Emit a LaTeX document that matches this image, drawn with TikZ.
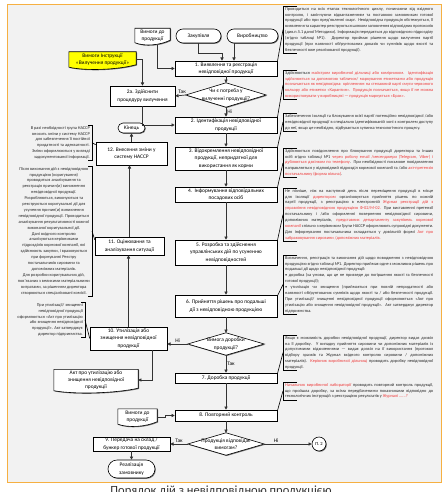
\documentclass[tikz,border=0pt]{standalone}
\usepackage{fontspec}
\setmainfont{Carlito}
\usetikzlibrary{arrows.meta,backgrounds,shadows,calc}
\definecolor{bgray}{HTML}{F2F2F2}
\definecolor{orng}{HTML}{F6B042}
\definecolor{redt}{HTML}{EE3A3A}
\definecolor{yel}{HTML}{FFFF00}
\newcommand\bxfont{\fontsize{5.4}{7.3}\selectfont}
\newcommand\anfont{\fontsize{4.35}{5.9}\selectfont}
\newcommand\rt[1]{\textcolor{redt}{#1}}
\newcommand\docshape[3]{%
 \fill[black!55] ([shift={(0.8pt,-0.8pt)}]#1.north west) -- ([shift={(0.8pt,-0.8pt)}]#1.north east) -- ([shift={(0.8pt,1.7pt)}]#1.south east) .. controls +(-#3,-5pt) and +(#3,-4pt) .. ([shift={(0.8pt,-0.8pt)}]#1.south west) -- cycle;
 \draw[line width=0.6pt, fill=#2] (#1.north west) -- (#1.north east) -- ([yshift=2.5pt]#1.south east) .. controls +(-#3,-5pt) and +(#3,-4pt) .. (#1.south west) -- cycle;}
\newcommand\diashape[1]{%
 \fill[black!55] ([shift={(0.8pt,-0.8pt)}]#1.north) -- ([shift={(0.8pt,-0.8pt)}]#1.east) -- ([shift={(0.8pt,-0.8pt)}]#1.south) -- ([shift={(0.8pt,-0.8pt)}]#1.west) -- cycle;
 \draw[line width=0.6pt, fill=white] (#1.north) -- (#1.east) -- (#1.south) -- (#1.west) -- cycle;}
\tolerance=9999 \emergencystretch=3pt \hbadness=10000
\begin{document}
\begin{tikzpicture}[x=1pt,y=-1pt,
 bx/.style={draw=black, line width=0.6pt, fill=white, font=\bxfont, align=center, inner sep=0.5pt, minimum width=102pt,
   general shadow={fill=black!55, shadow xshift=0.8pt, shadow yshift=-0.8pt}},
 term/.style={bx},
 dia/.style={font=\bxfont, align=center, inner sep=0pt, minimum width=80pt, minimum height=24pt},
 docn/.style={font=\bxfont, align=center, inner sep=0.5pt},
 circ/.style={draw=black, line width=0.6pt, fill=white, circle, minimum size=14pt, inner sep=0pt, font=\fontsize{4.6}{5}\selectfont,
   general shadow={fill=black!55, shadow xshift=0.8pt, shadow yshift=-0.8pt}},
 lbl/.style={font=\bxfont, inner sep=1pt},
 arr/.style={draw=black!80, line width=0.7pt, -{Triangle[length=3.2pt,width=3.2pt]}},
 brk/.style={draw=black, line width=0.6pt},
 anR/.style={font=\anfont, text=black!85, text width=148pt, align=justify, inner xsep=2pt, inner ysep=1pt, anchor=north west},
 anL/.style={font=\anfont, text=black!85, inner xsep=2pt, inner ysep=1pt, anchor=north east}
]
\useasboundingbox (0,0) rectangle (444,492);
\clip (0,0) rectangle (444,492);
\begin{scope}[on background layer]
\fill[white] (0,0) rectangle (444,492);
\draw[orng, line width=1pt, fill=bgray] (7,5) rectangle (441,482);
\end{scope}

% main flow
\node[bx, minimum height=15pt] (b1) at (226,68.5) {1. Виявлення та реєстрація\\невідповідної продукції};
\node[dia] (d1) at (226,95) {Чи є потреба у\\вилученні продукції?};
\node[bx, minimum height=16pt] (b2) at (226,125) {2. Ідентифікація невідповідної\\продукції};
\node[bx, minimum height=23pt] (b3) at (226,158.5) {3. Відокремлення невідповідної\\продукції, непридатної для\\використання як корми};
\node[bx, minimum height=15pt] (b4) at (226,194.5) {4.\ \ Інформування відповідальних\\посадових осіб};
\node[bx, minimum height=25pt] (b5) at (226,252.5) {5. Розробка та здійснення\\управлінських дій по усуненню\\невідповідностей};
\node[bx, minimum height=22pt] (b6) at (226,306) {6. Прийняття рішень про подальші\\дії з невідповідною продукцією};
\node[dia, minimum width=76pt, minimum height=22pt] (d2) at (226,344) {Вимога доробки\\продукції?};
\node[bx, minimum height=10pt] (b7) at (226,378) {7. Доробка продукції};
\node[bx, minimum height=11pt] (b8) at (226,415.5) {8. Повторний контроль};
\node[dia, minimum width=76pt, minimum height=22pt] (d3) at (226,444) {Продукція відповідає\\вимогам?};
\node[bx, minimum width=77pt, minimum height=14pt] (b9) at (131.5,444) {9. Передача на склад /\\бункер готової продукції};
\node[term, minimum width=47pt, minimum height=18pt, rounded corners=9pt] (real) at (131.5,469) {Реалізація\\замовнику};
\node[circ] (p2) at (319,444) {П. 2};
\node[bx, minimum width=77pt, minimum height=23pt] (b10) at (128.5,338.5) {10. Утилізація або\\знищення невідповідної\\продукції};
\node[docn, minimum width=84pt, minimum height=21pt] (act) at (96,380) {Акт про утилізацію або\\знищення невідповідної\\продукції};
\node[bx, minimum width=69pt, minimum height=18pt] (b11) at (129.5,246) {11. Оцінювання та\\аналізування ситуації};
\node[bx, minimum width=71pt, minimum height=23pt] (b12) at (131.5,153.5) {12. Внесення зміни у\\систему НАССР};
\node[term, minimum width=27pt, minimum height=10pt, rounded corners=5pt] (kin) at (131.5,128) {Кінець};
\node[bx, minimum width=65pt, minimum height=20pt] (b2a) at (142.5,96) {2а. Здійснити\\процедуру вилучення};
\node[docn, minimum width=35pt, minimum height=14pt] (req1) at (152.5,35.5) {Вимоги до\\продукції};
\node[docn, minimum width=67pt, minimum height=15pt] (instr) at (102.5,59.5) {Вимоги Інструкції\\«Вилучення продукції»};
\node[term, minimum width=45pt, minimum height=14pt, rounded corners=7pt] (zak) at (198.5,36) {Закупівля};
\node[term, minimum width=51pt, minimum height=14pt, rounded corners=7pt] (vyr) at (252.5,36) {Виробництво};
\node[docn, minimum width=39pt, minimum height=15pt] (req2) at (137.5,416.5) {Вимоги до\\продукції};

\begin{scope}[on background layer]
\diashape{d1}\diashape{d2}\diashape{d3}
\docshape{req1}{white}{10pt}
\docshape{req2}{white}{11pt}
\docshape{act}{white}{22pt}
\docshape{instr}{yel}{18pt}
\end{scope}

% connectors
\draw[arr] ([xshift=4.5pt,yshift=-2pt]req1.south) |- (b1.west);
\draw[arr] (zak.south) -- ++(0,10) -| ([xshift=-4pt]b1.north);
\draw[arr] ([xshift=-18pt]vyr.south) -- ++(0,10) -| ([xshift=8pt]b1.north);
\draw[arr] (b1.south) -- (d1.north);
\draw[arr] (d1.west) -- (b2a.east) node[lbl, above, pos=0.35] (t1) {Так};
\draw[arr] (d1.south) -- (b2.north) node[lbl, right, pos=0.5] (n1) {Ні};
\draw[arr] (instr.east) -| (b2a.north);
\draw[arr] (b2a.south) |- (b2.west);
\draw[arr] (b2.south) -- (b3.north);
\draw[arr] (b3.south) -- (b4.north);
\draw[arr] (b4.south) -- (b5.north);
\draw[arr] (b5.south) -- (b6.north);
\draw[arr] (b6.south) -- (d2.north);
\draw[arr] (d2.west) -- (d2.west -| b10.east) node[lbl, above, pos=0.5] (n2) {Ні};
\draw[arr] (d2.south) -- (b7.north) node[lbl, right, pos=0.5] (t2) {Так};
\draw[arr] (b7.south) -- (b8.north);
\draw[arr] ([yshift=-1pt]req2.east) -- ++(8,0) |- (b8.west);
\draw[arr] (b8.south) -- (d3.north);
\draw[arr] (d3.west) -- (b9.east) node[lbl, above, pos=0.5] (t3) {Так};
\draw[arr] (d3.east) -- (p2.west) node[lbl, above, pos=0.25] (n3) {Ні};
\draw[arr] (b9.south) -- (b9.south |- real.north);
\draw[arr] ([xshift=23.5pt]b10.south) |- (act.east);
\draw[arr] (b10.north) -- (b10.north |- b11.south);
\draw[arr] (b11.north) -- (b11.north |- b12.south);
\draw[arr] (b12.north) -- (b12.north |- kin.south);

% right annotations
\node[anR] (a1) at (283,6) {Проводиться на всіх етапах технологічного циклу, починаючи від вхідного контролю, і закінчуючи відвантаженням та поставкою замовникам готової продукції або при пред'явленні скарг. Невідповідна продукція обстежується, її виявлення та характер реєструються шляхом заповнення відповідних протоколів (див.п.5.1 даної Методики). Інформація передається до відповідного підрозділу (згідно таблиці №1). Директор приймає рішення щодо вилучення партії продукції (при наявності обґрунтованих доказів чи сумнівів щодо якості та безпечності вже реалізованої продукції).};
\node[anR] (a2) at (283,70) {Здійснюється \rt{майстром виробничої дільниці або комірником. Ідентифікація здійснюється за допомогою табличок/ маркування етикетками або продукція позначається як невідповідна: кріпленням на стелажний карті смуги червоного кольору або етикетки «Карантин». Продукція позначається, якщо її не можна використовувати у виробництві — продукція маркується «Брак».}};
\node[anR] (a3) at (283,113) {Забезпечення ізоляції та блокування всієї партії потенційно невідповідної /або невідповідної продукції в спеціально ідентифікованій зоні з контролем доступу до неї, якщо це необхідно, відбувається зупинка технологічного процесу.};
\node[anR] (a4) at (283,148) {Здійснюється повідомлення про блокування продукції директора та інших осіб згідно таблиці №1 \rt{через робочу email /месенджери (Telegram, Viber) і дублюється дзвінком по телефону}. При необхідності письмове повідомлення направляється у відповідний підрозділ кормової компанії та /або \rt{акт-претензія постачальнику (форма вільна)}.};
\node[anR] (a5) at (283,188) {Не пізніше, ніж на наступний день після переміщення продукції в місце для ізоляції \rt{директором} організовується прийняття рішень по кожній партії продукції, з реєстрацією в електронній \rt{Журнал реєстрації дій з управління невідповідною продукцією Ф-02/М-02.} При виставленні претензії постачальнику і /або оформленні повернення невідповідної сировини, допоміжних матеріалів, \rt{представник департаменту закупівель кормової компанії} спільно з керівником Групи НАССР оформлюють супровідні документи. Для інформування постачальника складається у довільній формі \rt{Акт про забраковування сировини /допоміжних матеріалів.}};
\node[anR] (a6) at (283,255) {Визначення, реєстрація та виконання дій щодо поводження з невідповідною продукцією згідно таблиці №1. Директор приймає одне з можливих рішень про подальші дії щодо невідповідної продукції:\\
• доробка (за умови, що це не призведе до погіршення якості та безпечності готової продукції);\\
• утилізація чи знищення (приймається при повній непридатності або наявності обґрунтованих сумнівів щодо якості та / або безпечності продукції. При утилізації/ знищенні невідповідної продукції оформлюється «Акт про утилізацію або знищення невідповідної продукції». Акт затверджує директор підприємства.};
\node[anR] (a7) at (283,335) {Якщо є можливість доробки невідповідної продукції, директор видає дозвіл на її доробку. У випадку прийняття сировини чи допоміжних матеріалів із допустимими відхиленнями — видає дозвіл на її використання (протокол відбору зразків та Журнал вхідного контролю сировини / допоміжних матеріалів). \rt{Керівник виробничої дільниці} проводить доробку невідповідної продукції.};
\node[anR] (a8) at (283,382) {\rt{Начальник виробничої лабораторії} проводить повторний контроль продукції, що пройшла доробку, за всіма передбаченими показниками відповідно до технологічних інструкцій з реєстрацією результатів у \rt{Журналі ......?}};

\foreach \a/\b in {a1/b1,a2/b2,a3/b3,a4/b4,a5/b5,a6/b6,a7/b7,a8/b8}{
  \draw[brk] ([xshift=14pt]\a.north west) -- (\a.north west) -- (\a.south west) -- ([xshift=14pt]\a.south west);
  \draw[brk] ([yshift=-1.5pt]\b.north east) -- (\a.west);
}

% left annotations
\node[anL, align=right] (L12) at (92,125) {В разі необхідності група НАССР\\вносить зміни у систему НАССР\\для забезпечення її постійної\\придатності та адекватності.\\Зміни оформлюються у вигляді\\задокументованої інформації.};
\node[anL, align=center] (L11) at (92,166) {Після виконання дій з невідповідною\\продукцією (коригування)\\проводиться аналізування та\\реєстрація причин(и) виникнення\\невідповідної продукції.\\Розробляються, виконуються та\\реєструються коригувальні дії для\\усунення причин(и) виникнення\\невідповідної продукції. Проводиться\\аналізування результативності кожної\\виконаної коригувальної дії.\\Дані вхідного контролю\\аналізуються керівниками\\підрозділів кормової компанії, які\\здійснюють закупки, і враховуються\\при формуванні Реєстру\\постачальників сировини та\\допоміжних матеріалів.\\Для розробки коригувальних дій,\\пов'язаних з великими матеріальними\\витратами, за рішенням директора\\створюються спеціалізовані комісії.};
\node[anL, align=right] (L10) at (85,302) {При утилізації/ знищенні\\невідповідної продукції\\оформлюється «Акт про утилізацію\\або знищення невідповідної\\продукції». Акт затверджує\\директор підприємства.};

\foreach \a/\b in {L12/b12,L11/b11,L10/b10}{
  \draw[brk] ([xshift=-4pt]\a.north east) -- (\a.north east) -- (\a.south east) -- ([xshift=-4pt]\a.south east);
}
\draw[brk] (L12.east) -- ([yshift=-3pt]b12.north west);
\draw[brk] (L11.east) -- ([yshift=-3pt]b11.north west);
\draw[brk] (L10.east) -- (b10.west);

% title
\node[font=\fontsize{12.5}{14}\selectfont, text=black!80, anchor=base, inner sep=0pt] (title) at (221,494) {Порядок дій з невідповідною продукцією};
\end{tikzpicture}
\end{document}
